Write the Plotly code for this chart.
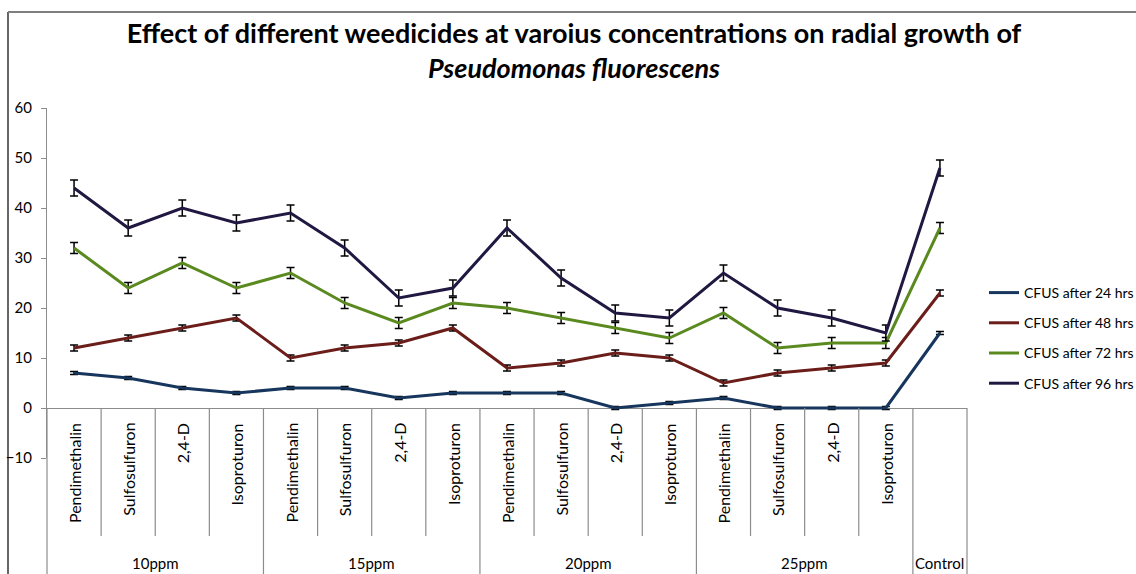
import plotly.graph_objects as go

# Category structure: weedicide within concentration group, plus a control
concentrations = ["10ppm", "15ppm", "20ppm", "25ppm"]
weedicides = ["Pendimethalin", "Sulfosulfuron", "2,4-D", "Isoproturon"]
control_label = "Control"

# Colony forming units at each sampling time (16 treatments + control)
cfus_24 = [7, 6, 4, 3, 4, 4, 2, 3, 3, 3, 0, 1, 2, 0, 0, 0, 15]
cfus_48 = [12, 14, 16, 18, 10, 12, 13, 16, 8, 9, 11, 10, 5, 7, 8, 9, 23]
cfus_72 = [32, 24, 29, 24, 27, 21, 17, 21, 20, 18, 16, 14, 19, 12, 13, 13, 36]
cfus_96 = [44, 36, 40, 37, 39, 32, 22, 24, 36, 26, 19, 18, 27, 20, 18, 15, 48]

# Standard error of each series
err_24 = [0.3] * 17
err_48 = [0.6] * 17
err_72 = [1.1] * 17
err_96 = [1.6] * 17

series_names = ["CFUS after 24 hrs", "CFUS after 48 hrs", "CFUS after 72 hrs", "CFUS after 96 hrs"]
series_values = [cfus_24, cfus_48, cfus_72, cfus_96]
series_errors = [err_24, err_48, err_72, err_96]
series_colors = ["#17365D", "#6B1D1A", "#5A8A1F", "#211842"]

y_ticks = [-10, 0, 10, 20, 30, 40, 50, 60]

# ---- layout geometry (pixels) ----
W, H = 1136, 574
ML, MR, MT, MB = 47, 169, 108, 116
Y_MIN, Y_MAX = -10, 60
plot_w = W - ML - MR
plot_h = H - MT - MB

n_cat = len(concentrations) * len(weedicides) + 1
x_pos = [i + 0.5 for i in range(n_cat)]


def py(pixel_y):
    """Pixel row -> paper y."""
    return (H - MB - pixel_y) / plot_h


def px(pixel_x):
    """Pixel column -> paper x."""
    return (pixel_x - ML) / plot_w


def vy(value):
    """Data value -> paper y."""
    return (value - Y_MIN) / (Y_MAX - Y_MIN)


FONT = "Lato, 'Open Sans', sans-serif"

fig = go.Figure()
for name, vals, errs, color in zip(series_names, series_values, series_errors, series_colors):
    fig.add_trace(go.Scatter(
        x=x_pos, y=vals, name=name, mode="lines",
        line=dict(color=color, width=3),
        legendgroup=name,
        error_y=dict(type="data", array=errs, visible=True,
                     color="black", thickness=1.5, width=4),
    ))

shapes = []
axis_y = vy(0)
bottom = py(H)
item_bottom = py(536)
line_style = dict(color="#8C8C8C", width=1.2)

# Multi-level category table below the axis
for i in range(n_cat + 1):
    xp = i / n_cat
    is_group_edge = (i % len(weedicides) == 0) or i >= n_cat - 1
    shapes.append(dict(type="line", xref="paper", yref="paper",
                       x0=xp, x1=xp, y0=axis_y,
                       y1=bottom if is_group_edge else item_bottom,
                       line=line_style))

# Outer frame of the chart area
shapes.append(dict(type="line", xref="paper", yref="paper",
                   x0=px(8), x1=px(8), y0=py(12), y1=py(H + 5),
                   line=dict(color="black", width=1.2)))
shapes.append(dict(type="line", xref="paper", yref="paper",
                   x0=px(8), x1=px(W + 5), y0=py(12), y1=py(12),
                   line=dict(color="#7F7F7F", width=2)))

annotations = []
label_font = dict(family=FONT, size=15, color="black")
item_font = dict(family=FONT, size=16, color="black")
for g in range(len(concentrations)):
    for k, w in enumerate(weedicides):
        idx = g * len(weedicides) + k
        annotations.append(dict(
            text=w, x=(idx + 0.5) / n_cat, y=py(421), xref="paper", yref="paper",
            textangle=-90, showarrow=False, xanchor="center", yanchor="top",
            font=item_font))
    annotations.append(dict(
        text=concentrations[g], x=(g * len(weedicides) + len(weedicides) / 2) / n_cat,
        y=py(563), xref="paper", yref="paper", showarrow=False,
        xanchor="center", yanchor="middle", font=label_font))
annotations.append(dict(
    text=control_label, x=(n_cat - 0.5) / n_cat, y=py(563), xref="paper", yref="paper",
    showarrow=False, xanchor="center", yanchor="middle", font=label_font))

fig.update_layout(
    width=W, height=H,
    margin=dict(l=ML, r=MR, t=MT, b=MB, autoexpand=False),
    paper_bgcolor="white", plot_bgcolor="white",
    title=dict(
        text="Effect of different weedicides at varoius concentrations on radial growth of"
             "<br><i>Pseudomonas fluorescens</i>",
        x=574 / W, xanchor="center", xref="container",
        y=1 - 43 / H, yanchor="top", yref="container",
        font=dict(family=FONT, size=27, color="black", weight="bold"),
    ),
    xaxis=dict(range=[0, n_cat], showticklabels=False, ticks="",
               showgrid=False, zeroline=False, showline=False, fixedrange=True),
    yaxis=dict(range=[Y_MIN, Y_MAX], tickvals=y_ticks, ticks="outside",
               ticklen=5, tickcolor="#8C8C8C", showline=True, linecolor="#8C8C8C",
               linewidth=1.2, showgrid=False, zeroline=True, zerolinecolor="#8C8C8C",
               zerolinewidth=1.2, ticklabelstandoff=6,
               tickfont=dict(family=FONT, size=15, color="black")),
    legend=dict(x=px(984), y=py(277), xanchor="left", yanchor="top",
                font=dict(family=FONT, size=14, color="black"),
                tracegroupgap=9, bgcolor="rgba(0,0,0,0)"),
    shapes=shapes,
    annotations=annotations,
    showlegend=True,
)

fig.write_html("out.html")
